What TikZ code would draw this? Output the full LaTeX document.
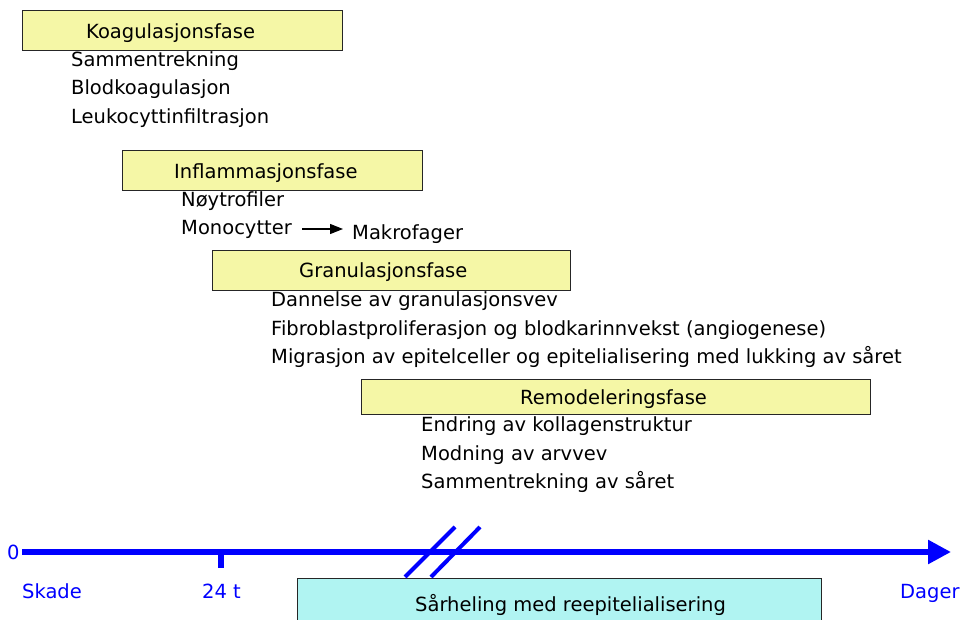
\documentclass[tikz,border=0pt]{standalone}
\usepackage{fontspec}
\setmainfont{DejaVu Sans}
\usetikzlibrary{arrows.meta}
\definecolor{phase}{RGB}{245,247,166}
\definecolor{heal}{RGB}{176,244,242}
\definecolor{axisblue}{RGB}{0,0,255}
\begin{document}
\begin{tikzpicture}[x=1pt,y=-1pt,
  phasebox/.style={draw=black!85, line width=1pt, fill=phase, anchor=north west, inner sep=0pt},
  healbox/.style={draw=black!85, line width=1pt, fill=heal, anchor=north west, inner sep=0pt},
  txt/.style={anchor=base west, inner sep=0pt, font=\fontsize{19.5}{23}\selectfont},
  btxt/.style={txt, text=axisblue},
  axisline/.style={draw=axisblue, line width=5.5pt},
  breakline/.style={draw=axisblue, line width=4pt},
  conn/.style={draw=black, line width=1.1pt, -{Triangle[length=13pt,width=10pt]}}]
\useasboundingbox (0,0) rectangle (961,620);
% phase boxes
\node[phasebox, minimum width=320pt, minimum height=40pt] (b1) at (22,10) {};
\node[phasebox, minimum width=300pt, minimum height=40pt] (b2) at (122,150) {};
\node[phasebox, minimum width=358pt, minimum height=40pt] (b3) at (212,250) {};
\node[phasebox, minimum width=509pt, minimum height=35pt] (b4) at (361,379) {};
\node[healbox, minimum width=524pt, minimum height=60pt] (b5) at (297,578) {};
% titles
\node[txt] (t1) at (86,39) {Koagulasjonsfase};
\node[txt] (t2) at (174,179) {Inflammasjonsfase};
\node[txt] (t3) at (299,278) {Granulasjonsfase};
\node[txt] (t4) at (520,404) {Remodeleringsfase};
\node[txt] (t5) at (415,611) {Sårheling med reepitelialisering};
% items
\node[txt] (k1) at (71,67) {Sammentrekning};
\node[txt] (k2) at (71,95) {Blodkoagulasjon};
\node[txt] (k3) at (71,124) {Leukocyttinfiltrasjon};
\node[txt] (i1) at (181,207) {Nøytrofiler};
\node[txt] (mono) at (181,235) {Monocytter};
\node[txt] (makro) at (352,240) {Makrofager};
\node[txt] (g1) at (271,307) {Dannelse av granulasjonsvev};
\node[txt] (g2) at (271,335) {Fibroblastproliferasjon og blodkarinnvekst (angiogenese)};
\node[txt] (g3) at (271,363) {Migrasjon av epitelceller og epitelialisering med lukking av såret};
\node[txt] (r1) at (421,431) {Endring av kollagenstruktur};
\node[txt] (r2) at (421,460) {Modning av arvvev};
\node[txt] (r3) at (421,488) {Sammentrekning av såret};
\coordinate (a0) at (302,229);
\coordinate (a1) at (343,229);
\draw[conn] (a0) -- (a1);
% timeline
\node[btxt] (zero) at (7,559) {0};
\node[btxt] (skade) at (22,598) {Skade};
\node[btxt] (t24) at (202,598) {24 t};
\node[btxt] (dager) at (900,598) {Dager};
\coordinate (ax0) at (22,552);
\coordinate (ax1) at (951,552);
\draw[axisline, -{Triangle[length=23pt,width=23pt]}] (ax0) -- (ax1);
\coordinate (tk0) at (221,549);
\coordinate (tk1) at (221,568);
\draw[axisline] (tk0) -- (tk1);
\coordinate (bA0) at (405,577);
\coordinate (bA1) at (455,527);
\coordinate (bB0) at (431,577);
\coordinate (bB1) at (480,527);
\draw[breakline] (bA0) -- (bA1);
\draw[breakline] (bB0) -- (bB1);
\end{tikzpicture}
\end{document}
